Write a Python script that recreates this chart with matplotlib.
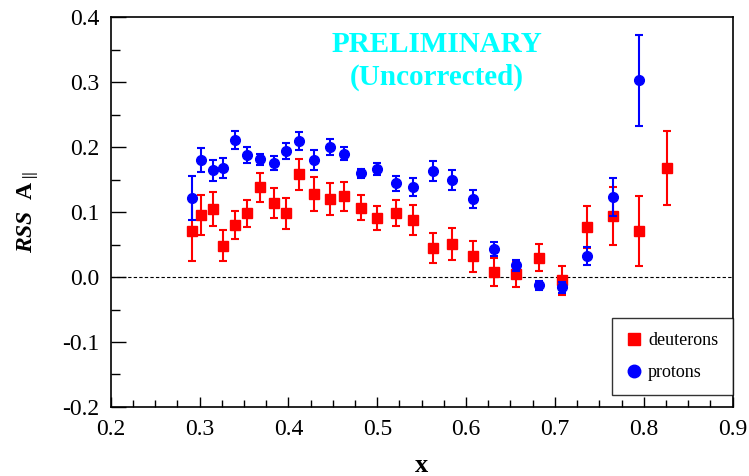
import numpy as np
import matplotlib
matplotlib.use("Agg")
import matplotlib.pyplot as plt
from matplotlib.ticker import MultipleLocator
from matplotlib.lines import Line2D

plt.rcParams['font.family'] = ['Liberation Serif', 'DejaVu Serif']
plt.rcParams['mathtext.fontset'] = 'custom'
plt.rcParams['mathtext.rm'] = 'Liberation Serif'
plt.rcParams['mathtext.bf'] = 'Liberation Serif:bold'
plt.rcParams['mathtext.it'] = 'Liberation Serif:italic'
plt.rcParams['mathtext.bfit'] = 'Liberation Serif:bold:italic'

# x bins
x_bins = [0.2915, 0.302, 0.3146, 0.3266, 0.340, 0.3538, 0.3677, 0.3833, 0.3975,
          0.4124, 0.4293, 0.4464, 0.4629, 0.4818, 0.4995, 0.5207, 0.5405, 0.5629,
          0.5845, 0.6077, 0.6312, 0.6558, 0.6816, 0.7085, 0.7365, 0.7652, 0.7947,
          0.826]

# deuterons
deut_y = [0.071, 0.096, 0.105, 0.048, 0.080, 0.098, 0.138, 0.114, 0.098,
          0.158, 0.128, 0.120, 0.124, 0.107, 0.091, 0.099, 0.088, 0.045,
          0.051, 0.032, 0.008, 0.004, 0.030, -0.005, 0.077, 0.094, 0.071,
          0.168]
deut_err = [0.047, 0.031, 0.026, 0.024, 0.022, 0.021, 0.022, 0.023, 0.024,
            0.024, 0.026, 0.024, 0.022, 0.019, 0.019, 0.020, 0.023, 0.023,
            0.025, 0.024, 0.022, 0.020, 0.021, 0.022, 0.032, 0.044, 0.054,
            0.057]

# protons (no point in the last bin)
prot_x = x_bins[:-1]
prot_y = [0.122, 0.180, 0.164, 0.168, 0.211, 0.188, 0.181, 0.175, 0.194,
          0.209, 0.180, 0.200, 0.190, 0.160, 0.166, 0.144, 0.138, 0.163,
          0.149, 0.120, 0.043, 0.018, -0.013, -0.016, 0.032, 0.123, 0.303]
prot_err = [0.034, 0.019, 0.016, 0.015, 0.014, 0.012, 0.009, 0.011, 0.012,
            0.014, 0.015, 0.012, 0.010, 0.007, 0.009, 0.011, 0.014, 0.015,
            0.015, 0.014, 0.011, 0.008, 0.007, 0.009, 0.014, 0.029, 0.070]

xticks = [0.2, 0.3, 0.4, 0.5, 0.6, 0.7, 0.8, 0.9]
yticks = [-0.2, -0.1, 0.0, 0.1, 0.2, 0.3, 0.4]

fig = plt.figure(figsize=(7.49, 4.76), dpi=100)
ax = fig.add_axes([0.148, 0.145, 0.830, 0.819])

ax.axhline(0.0, color='black', linestyle=(0, (3, 2)), linewidth=0.8, zorder=1)

ax.errorbar(x_bins, deut_y, yerr=deut_err, fmt='s', color='#ff0000',
            markersize=6.5, elinewidth=1.5, capsize=3, capthick=1.5, zorder=2)
ax.errorbar(prot_x, prot_y, yerr=prot_err, fmt='o', color='#0000ff',
            markersize=7, elinewidth=1.5, capsize=3, capthick=1.5, zorder=3)

ax.set_xlim(0.2, 0.9)
ax.set_ylim(-0.2, 0.4)
ax.set_xticks(xticks)
ax.set_xticklabels(['%.1f' % v for v in xticks])
ax.set_yticks(yticks)
ax.set_yticklabels(['%.1f' % v for v in yticks])
ax.xaxis.set_minor_locator(MultipleLocator(0.025))
ax.yaxis.set_minor_locator(MultipleLocator(0.05))
ax.tick_params(which='both', direction='in', top=False, right=False,
               labelsize=17, width=1)
ax.tick_params(axis='x', which='major', length=7, pad=9)
ax.tick_params(axis='x', which='minor', length=5)
ax.tick_params(axis='y', which='major', length=11, pad=8)
ax.tick_params(axis='y', which='minor', length=6.5)

for sp in ax.spines.values():
    sp.set_linewidth(1.2)

ax.set_xlabel('x', fontsize=19, fontweight='bold', labelpad=10)
ax.set_ylabel(r'$\mathbfit{RSS}\ \ \mathbf{A}_{\parallel}$', fontsize=17, labelpad=16)

ax.text(0.525, 0.965, 'PRELIMINARY', transform=ax.transAxes, color='#00ffff',
        fontsize=21, fontweight='bold', ha='center', va='top')
ax.text(0.525, 0.88, '(Uncorrected)', transform=ax.transAxes, color='#00ffff',
        fontsize=21, fontweight='bold', ha='center', va='top')

handles = [Line2D([], [], marker='s', color='#ff0000', linestyle='none', markersize=9),
           Line2D([], [], marker='o', color='#0000ff', linestyle='none', markersize=9)]
leg = ax.legend(handles, ['deuterons', 'protons'], loc='lower right',
                bbox_to_anchor=(1.0, 0.03), fontsize=13, frameon=True,
                fancybox=False, edgecolor='black', handletextpad=0.4,
                borderpad=0.8, labelspacing=0.8, handlelength=0.8,
                borderaxespad=0)
leg.get_frame().set_linewidth(1.0)

fig.savefig('out.png', dpi=100)
